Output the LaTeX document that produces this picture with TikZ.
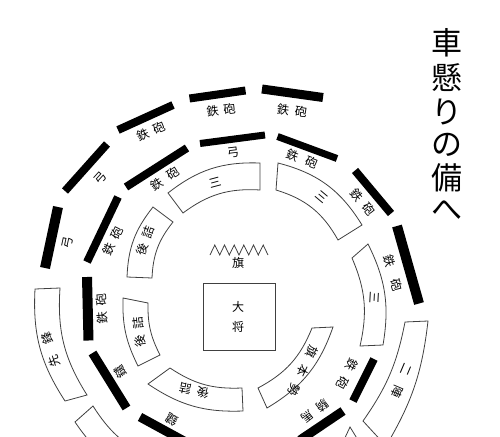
\documentclass[tikz,border=0pt]{standalone}
\usepackage{fontspec}
\newfontfamily\jp{Noto Sans CJK JP}
\begin{document}
\begin{tikzpicture}[x=1pt,y=-1pt,
  bar/.style={line width=#1,draw=black},
  sect/.style={draw=black!75,line width=0.8pt},
  lab/.style={font=\jp\fontsize{12}{12}\selectfont,inner sep=0pt},
  ttl/.style={font=\jp\fontsize{31}{31}\selectfont,inner sep=0pt}]
\useasboundingbox (0,0) rectangle (500,436);
\clip (0,0) rectangle (500,436);
% ---- outer ring bars
\draw[bar=8] (189.5,98.5) -- (245.5,90.5);
\draw[bar=9] (262,89) -- (323,97.5);
\draw[bar=8] (118,130) -- (173,105);
\draw[bar=8] (65,191) -- (107,144);
\draw[bar=10] (58,207) -- (45,268);
% ---- middle ring bars
\draw[bar=10] (87,277) -- (88.5,340.5);
\draw[bar=8] (118,197) -- (87,262);
\draw[bar=8] (126,187) -- (187,148);
\draw[bar=7] (200,143.5) -- (265,135);
\draw[bar=7] (277.5,136.5) -- (337,158.5);
\draw[bar=8] (355,170.5) -- (391,213.5);
\draw[bar=10] (397,226) -- (419,303.5);
\draw[bar=8] (374,359) -- (353,401);
\draw[bar=9] (343,411) -- (300,440);
\draw[bar=9] (92.5,353) -- (126.5,408);
\draw[bar=9] (140,417) -- (195,447);
% ---- boxes
\draw[sect] (168,193) to[bend left=20] (260,163) -- (260,190) to[bend right=20] (183,213) -- cycle;
\draw[sect] (278,163) to[bend left=22] (362,225) -- (338,240) to[bend right=22] (276,190) -- cycle;
\draw[sect] (127,277) to[bend left=18] (153,207) -- (173,222) to[bend right=18] (152,278) -- cycle;
\draw[sect] (138,366) to[bend left=14] (123,298) -- (148,303) to[bend right=14] (160,355) -- cycle;
\draw[sect] (243,411) to[bend left=18] (148,384) -- (170,368) to[bend right=18] (242,388) -- cycle;
\draw[sect] (333,327) to[bend left=20] (267,408) -- (258,388) to[bend right=20] (312,328) -- cycle;
\draw[sect] (368,244) to[bend left=18] (383,345) -- (360,346) to[bend right=18] (352,258) -- cycle;
\draw[sect] (65,401) to[bend left=18] (35,289) -- (60,288) to[bend right=18] (87,395) -- cycle;
\draw[sect] (428,321) to[bend left=12] (386,446) -- (363,421) to[bend right=12] (405,322) -- cycle;
\draw[sect] (137.5,476) to[bend left=15] (75,422) -- (93,406) to[bend right=15] (148.5,457) -- cycle;
\draw[sect] (343,442) -- (350,427) -- (358,440);
% ---- commander and flag
\draw[sect,line width=1pt] (203,283) rectangle (275,350);
\node[lab] (taisho1) at (238,307) {大};
\node[lab] (taisho2) at (238,327) {将};
\draw[sect] (210,255) -- (214.8,245) -- (219.7,255) -- (224.5,245) -- (229.3,255) -- (234.2,245) -- (239,255) -- (243.8,245) -- (248.7,255) -- (253.5,245) -- (258.3,255) -- (263.2,245) -- (268,255);
\node[lab] (hata) at (238,263) {旗};
% ---- bar labels
\node[lab,rotate=8] (lA1) at (221,110) {鉄\kern5pt砲};
\node[lab,rotate=-7] (lA2) at (292,111) {鉄\kern6pt砲};
\node[lab,rotate=24] (lA3) at (151,131) {鉄\kern5pt砲};
\node[lab,rotate=48] (lA4) at (100,178) {弓};
\node[lab,rotate=78] (lA5) at (68,243) {弓};
\node[lab,rotate=95] (lB1) at (102,309) {鉄\kern6pt砲};
\node[lab,rotate=65] (lB2) at (113,241) {鉄\kern6pt砲};
\node[lab,rotate=34] (lB3) at (165,179) {鉄\kern7pt砲};
\node[lab,rotate=7] (lB4) at (233,153) {弓};
\node[lab,rotate=-21] (lB5) at (302,159) {鉄\kern8pt砲};
\node[lab,rotate=-50] (lB6) at (363,202) {鉄\kern6pt砲};
\node[lab,rotate=-74] (lB7) at (393,273) {鉄\kern12pt砲};
\node[lab,rotate=-117] (lB8) at (347,374) {鉄\kern8pt砲};
\node[lab,rotate=-142] (lB9) at (315,411) {騎\kern6pt馬};
\node[lab,rotate=122] (lB10) at (120,372) {鑓};
\node[lab,rotate=151] (lB11) at (172,420) {鑓};
% ---- box labels
\node[lab,rotate=15] (lC1) at (215,183) {三};
\node[lab,rotate=-40] (lC2) at (322,197) {三};
\node[lab,rotate=70] (lC3) at (145,241) {後\kern6pt詰};
\node[lab,rotate=97] (lC4) at (139,332) {後\kern6pt詰};
\node[lab,rotate=168] (lC5) at (194,391) {後\kern6pt詰};
\node[lab,rotate=-115] (lC6) at (303,371) {旗\kern9pt本\kern9pt勢};
\node[lab,rotate=-93] (lC7) at (375,298) {三};
\node[lab,rotate=108] (lA6) at (51,350) {先\kern12pt鋒};
\node[lab,rotate=-113] (lA7) at (402,381) {二\kern12pt陣};
% ---- title
\node[ttl] (t1) at (447,43) {車};
\node[ttl] (t2) at (447,78) {懸};
\node[ttl] (t3) at (447,112) {り};
\node[ttl] (t4) at (447,145) {の};
\node[ttl] (t5) at (447,178) {備};
\node[ttl] (t6) at (447,210) {へ};
\end{tikzpicture}
\end{document}
